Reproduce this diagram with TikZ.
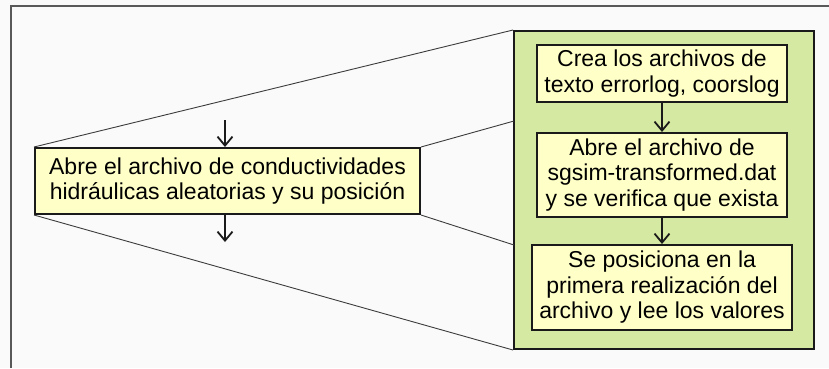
\documentclass[tikz,border=0pt]{standalone}
\usepackage{fontspec}
\setmainfont{Liberation Sans}
\usetikzlibrary{arrows.meta}
\definecolor{boxfill}{HTML}{FFFFC8}
\definecolor{groupfill}{HTML}{D5E9A3}
\definecolor{edge}{HTML}{1A1A1A}
\tikzset{
  stepbox/.style={draw=edge, line width=2pt, fill=boxfill, inner sep=0pt,
    align=center, font=\fontsize{23}{25.5}\selectfont},
  flow/.style={draw=edge, line width=1.8pt,
    -{Straight Barb[length=9pt,width=15pt,line width=1.8pt]}},
  zoomline/.style={draw=edge!85, line width=0.9pt},
}
\begin{document}
\begin{tikzpicture}[x=1pt,y=-1pt]
\useasboundingbox (0,0) rectangle (829,368);
\fill[white!98!black] (0,0) rectangle (829,368);
% frame
\draw[line width=1.2pt, black!65] (11,368) -- (11,6) -- (829,6);

% detail group
\node[draw=edge, line width=2pt, fill=groupfill, minimum width=300pt,
  minimum height=318pt, inner sep=0pt] (grp) at (664,190) {};
\node[stepbox, minimum width=250pt, minimum height=57pt] (b1) at (662,73.5)
  {Crea los archivos de\\texto errorlog, coorslog};
\node[stepbox, minimum width=250pt, minimum height=84pt] (b2) at (662,175)
  {Abre el archivo de\\sgsim-transformed.dat\\y se verifica que exista};
\node[stepbox, minimum width=260pt, minimum height=85pt] (b3) at (662,287.5)
  {Se posiciona en la\\primera realización del\\archivo y lee los valores};
\draw[flow] (b1.south) -- (b2.north);
\draw[flow] (b2.south) -- (b3.north);

% main step
\node[stepbox, minimum width=385pt, minimum height=66pt] (main) at (227.5,181)
  {Abre el archivo de conductividades\\hidráulicas aleatorias y su posición};
\coordinate (inA) at (225,120);
\coordinate (outA) at (225,242);
\draw[flow] (inA) -- (main.north -| inA);
\draw[flow] (main.south -| outA) -- (outA);

% zoom lines
\coordinate (gA) at (514,121);
\coordinate (gB) at (514,245);
\draw[zoomline] (main.north west) -- (grp.north west);
\draw[zoomline] (main.south west) -- (grp.south west);
\draw[zoomline] (main.north east) -- (gA);
\draw[zoomline] (main.south east) -- (gB);
\end{tikzpicture}
\end{document}
